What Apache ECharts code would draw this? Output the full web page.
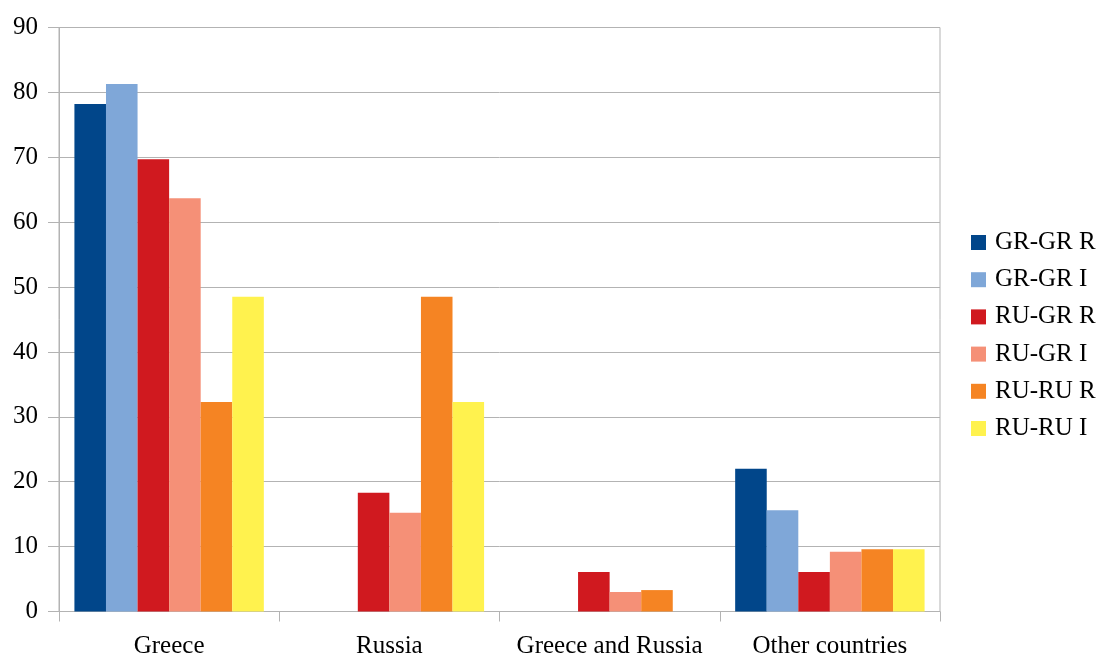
<!DOCTYPE html>
<html>
<head>
<meta charset="utf-8">
<script src="https://cdn.jsdelivr.net/npm/echarts@6/dist/echarts.min.js"></script>
<style>html,body{margin:0;padding:0;background:#fff}#c{width:1101px;height:655px}</style>
</head>
<body>
<div id="c"></div>
<script>
var categories = ['Greece', 'Russia', 'Greece and Russia', 'Other countries'];
var seriesNames = ['GR-GR R', 'GR-GR I', 'RU-GR R', 'RU-GR I', 'RU-RU R', 'RU-RU I'];
var grgrR = [78.2, 0, 0, 22.0];
var grgrI = [81.3, 0, 0, 15.6];
var rugrR = [69.7, 18.3, 6.1, 6.1];
var rugrI = [63.7, 15.2, 3.0, 9.2];
var ruruR = [32.3, 48.5, 3.3, 9.6];
var ruruI = [48.5, 32.3, 0, 9.6];
var colors = ['#01468A', '#7FA7D8', '#D0191F', '#F59077', '#F58423', '#FFF24E'];
var yTicks = [0, 10, 20, 30, 40, 50, 60, 70, 80, 90];

var allData = [grgrR, grgrI, rugrR, rugrI, ruruR, ruruI];
var font = 'Liberation Serif';
var chart = echarts.init(document.getElementById('c'));
chart.setOption({
  animation: false,
  grid: {left: 59, right: 161, top: 27.5, bottom: 43.5, containLabel: false, outerBoundsMode: 'none',
         show: true, borderColor: '#b3b3b3', borderWidth: 1},
  legend: {
    orient: 'vertical', left: 966, top: 225, itemWidth: 15, itemHeight: 15, itemGap: 12.2,
    icon: 'rect', padding: 5,
    textStyle: {fontFamily: font, fontSize: 25, color: '#000', lineHeight: 20, padding: [0, 0, 0, 4]},
    data: seriesNames
  },
  xAxis: {
    type: 'category', data: categories,
    axisLine: {show: true, lineStyle: {color: '#b3b3b3'}},
    axisTick: {show: true, length: 10, interval: 0, lineStyle: {color: '#b3b3b3'}},
    axisLabel: {fontFamily: font, fontSize: 25, color: '#000', margin: 22, interval: 0}
  },
  yAxis: {
    type: 'value', min: yTicks[0], max: yTicks[yTicks.length - 1], interval: 10,
    axisLine: {show: true, lineStyle: {color: '#b3b3b3'}},
    axisTick: {show: true, length: 11, lineStyle: {color: '#b3b3b3'}},
    splitLine: {show: true, lineStyle: {color: '#b3b3b3'}},
    axisLabel: {fontFamily: font, fontSize: 25, color: '#000', margin: 21}
  },
  series: seriesNames.map(function (n, i) {
    return {
      name: n, type: 'bar', data: allData[i], barGap: '0%', barCategoryGap: '14%',
      itemStyle: {color: colors[i]}
    };
  })
});
</script>
</body>
</html>
